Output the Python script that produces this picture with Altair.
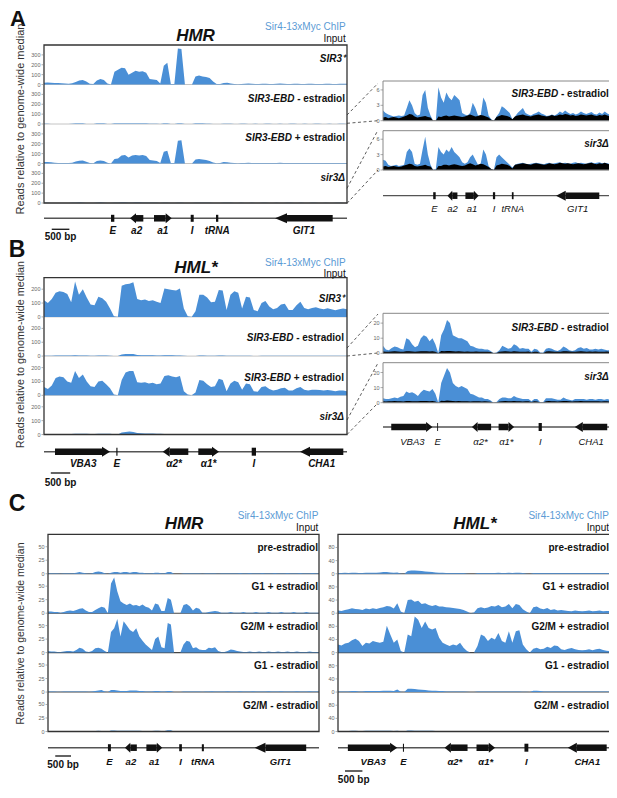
import altair as alt
import pandas as pd

FONT = "Liberation Sans"
BLUE = "#4a8fd6"
LEG_BLUE = "#5b9bd5"
W, H = 601, 782


def P(v):
    return v - 8.0


# ---------------- genomic bins ----------------
HMR_LEN, HML_LEN = 8600, 7800
HMR_POS = list(range(0, HMR_LEN + 1, 100))
HML_POS = list(range(0, HML_LEN + 1, 100))

# ---------------- HMR, panel A (left) ----------------
HMR_SIR3 = [18, 20, 18, 15, 15, 12, 10, 8, 12, 25,
            40, 45, 30, 8, 5, 40, 55, 45, 10, 0,
            130, 150, 170, 165, 100, 120, 140, 130, 135, 120,
            55, 50, 45, 10, 190, 220, 5, 5, 365, 360,
            0, 0, 0, 80, 90, 80, 75, 65, 30, 5,
            5, 15, 18, 10, 5, 3, 5, 8, 10, 8,
            5, 6, 8, 7, 5, 6, 8, 9, 7, 5,
            6, 7, 8, 6, 5, 7, 8, 6, 5, 6,
            7, 8, 6, 5, 7, 8, 7]
HMR_EBDM = [2, 2, 1, 1, 1, 1, 1, 1, 2, 4,
            5, 4, 1, 1, 1, 4, 5, 4, 1, 0,
            4, 5, 6, 6, 5, 5, 6, 6, 5, 5,
            3, 3, 2, 1, 5, 5, 1, 1, 6, 6,
            0, 0, 0, 4, 4, 4, 3, 3, 1, 1,
            1, 3, 3, 2, 1, 1, 2, 2, 1, 1,
            2, 1, 1, 2, 2, 1, 1, 2, 1, 1,
            2, 2, 1, 1, 2, 1, 1, 2, 2, 1,
            1, 2, 1, 1, 2, 2, 1]
HMR_EBDP = [15, 14, 12, 8, 5, 5, 4, 4, 8, 20,
            28, 30, 18, 5, 3, 25, 30, 25, 8, 0,
            45, 50, 80, 85, 60, 80, 85, 80, 85, 75,
            35, 30, 25, 5, 120, 130, 4, 5, 230, 235,
            0, 0, 0, 40, 45, 40, 35, 25, 10, 3,
            4, 15, 12, 8, 4, 3, 4, 6, 8, 6,
            4, 5, 6, 5, 4, 5, 6, 7, 5, 4,
            5, 6, 5, 4, 4, 5, 6, 5, 4, 5,
            6, 5, 4, 4, 5, 6, 5]
HMR_S3D = [2, 2, 1, 1, 1, 1, 1, 1, 2, 3,
           4, 3, 1, 1, 1, 3, 4, 3, 1, 0,
           3, 3, 4, 4, 3, 3, 4, 4, 3, 3,
           2, 2, 2, 1, 3, 3, 1, 1, 3, 3,
           0, 0, 0, 2, 3, 3, 2, 2, 1, 1,
           1, 2, 2, 2, 1, 1, 2, 1, 1, 2,
           1, 1, 2, 2, 1, 1, 2, 1, 1, 2,
           2, 1, 1, 2, 1, 1, 2, 2, 1, 1,
           2, 1, 1, 2, 2, 1, 1]

# ---------------- HMR zoom (panel A right) ----------------
HMRZ_EBDM_CHIP = [2.0, 1.5, 1.2, 1.0, 0.8, 0.9, 1.0, 0.9, 1.0, 2.5,
                  4.0, 3.0, 1.5, 1.0, 1.2, 5.0, 6.0, 2.5, 1.0, 0.0,
                  0.0, 6.5, 4.5, 3.5, 5.5, 4.5, 4.0, 5.0, 4.5, 4.0,
                  1.5, 1.2, 1.0, 1.5, 3.5, 2.5, 1.0, 1.0, 4.5, 3.5,
                  1.0, 0.3, 0.0, 0.8, 1.5, 2.8, 2.5, 2.0, 1.5, 0.3,
                  0.8, 1.5, 2.0, 2.5, 1.5, 1.2, 1.0, 1.3, 1.5, 1.8,
                  1.4, 1.2, 0.9, 1.0, 1.2, 1.0, 1.3, 1.8, 1.5, 2.0,
                  1.6, 1.3, 1.5, 1.2, 1.4, 1.8, 1.5, 1.3, 1.5, 1.7,
                  1.3, 1.2, 1.6, 1.3, 1.8, 1.4, 1.2]
HMRZ_EBDM_INP = [0.6, 0.7, 0.5, 0.6, 0.7, 0.6, 0.5, 0.6, 0.8, 1.0,
                 1.3, 1.2, 0.8, 0.6, 0.7, 0.8, 0.9, 0.7, 0.6, 0.0,
                 0.0, 0.8, 0.7, 0.9, 1.0, 0.8, 0.9, 1.0, 0.9, 0.8,
                 0.7, 0.8, 1.0, 1.2, 1.0, 0.8, 0.9, 1.1, 1.0, 0.8,
                 0.6, 0.2, 0.0, 0.7, 0.9, 1.1, 1.0, 0.9, 0.7, 0.3,
                 0.8, 1.0, 1.1, 1.2, 1.0, 0.9, 0.8, 1.0, 1.1, 1.2,
                 1.0, 0.9, 0.8, 0.9, 1.1, 0.9, 1.0, 1.2, 1.1, 1.3,
                 1.2, 1.0, 1.1, 0.9, 1.0, 1.2, 1.1, 1.0, 1.1, 1.2,
                 1.0, 0.9, 1.1, 1.0, 1.2, 1.0, 0.9]
HMRZ_S3D_CHIP = [2.0, 1.8, 1.0, 0.8, 0.9, 1.0, 0.8, 0.9, 1.0, 3.5,
                 4.2, 3.5, 1.2, 1.0, 1.2, 4.0, 6.5, 3.0, 1.0, 0.0,
                 0.2, 4.5, 3.5, 3.0, 4.0, 3.5, 4.5, 3.5, 3.0, 2.5,
                 1.5, 1.2, 1.5, 2.5, 3.0, 2.0, 1.0, 1.2, 4.0, 3.0,
                 0.8, 0.2, 0.0, 2.5, 3.0, 2.5, 2.0, 1.5, 1.0, 0.5,
                 1.0, 1.2, 1.3, 1.4, 1.2, 1.1, 1.2, 1.3, 1.4, 1.3,
                 1.2, 1.1, 1.3, 1.4, 1.2, 1.3, 1.4, 1.5, 1.3, 1.4,
                 1.3, 1.2, 1.4, 1.5, 1.3, 1.4, 1.3, 1.2, 1.4, 1.5,
                 1.3, 1.4, 1.5, 1.3, 1.4, 1.3, 1.2]
HMRZ_S3D_INP = [0.7, 0.8, 0.6, 0.7, 0.8, 0.7, 0.6, 0.7, 0.9, 1.0,
                1.2, 1.1, 0.8, 0.7, 0.8, 0.9, 1.0, 0.8, 0.7, 0.0,
                0.0, 0.8, 0.8, 1.0, 1.0, 0.9, 1.0, 1.1, 1.0, 0.9,
                0.8, 0.9, 1.1, 1.3, 1.1, 0.9, 1.0, 1.2, 1.1, 0.9,
                0.6, 0.2, 0.0, 0.9, 1.0, 1.2, 1.1, 1.0, 0.8, 0.3,
                1.0, 1.1, 1.2, 1.3, 1.2, 1.1, 1.0, 1.2, 1.3, 1.2,
                1.1, 1.0, 1.1, 1.3, 1.2, 1.1, 1.2, 1.4, 1.3, 1.2,
                1.3, 1.2, 1.1, 1.2, 1.3, 1.2, 1.1, 1.2, 1.3, 1.4,
                1.2, 1.1, 1.3, 1.2, 1.4, 1.2, 1.1]

# ---------------- HML*, panel B (left) ----------------
HML_SIR3 = [120, 100, 130, 175, 185, 180, 165, 105, 255, 160,
            200, 140, 90, 85, 145, 135, 110, 60, 5, 0,
            225, 235, 240, 250, 130, 120, 125, 115, 120, 110,
            100, 205, 200, 195, 190, 205, 60, 5, 0, 40,
            160, 160, 140, 105, 110, 195, 190, 50, 160, 185,
            175, 60, 145, 140, 50, 40, 100, 115, 75, 55,
            65, 90, 95, 50, 50, 85, 110, 65, 55, 65,
            70, 60, 55, 62, 55, 48, 55, 60, 55]
HML_EBDM = [3, 3, 3, 4, 5, 5, 4, 4, 6, 5,
            5, 4, 3, 3, 5, 5, 4, 3, 1, 0,
            12, 15, 16, 15, 8, 7, 7, 6, 6, 5,
            5, 6, 6, 6, 5, 5, 2, 1, 0, 1,
            4, 4, 3, 3, 3, 4, 4, 2, 3, 3,
            3, 2, 3, 3, 1, 1, 3, 3, 2, 2,
            2, 2, 3, 2, 2, 2, 3, 3, 2, 2,
            2, 2, 2, 2, 2, 2, 2, 2, 2]
HML_EBDP = [60, 45, 70, 125, 135, 130, 100, 90, 175, 125,
            150, 100, 65, 60, 100, 105, 80, 50, 5, 0,
            110, 165, 175, 175, 95, 90, 95, 85, 90, 80,
            85, 140, 145, 135, 130, 140, 30, 5, 0, 20,
            110, 105, 80, 60, 65, 120, 110, 30, 85, 105,
            95, 40, 85, 80, 30, 25, 60, 65, 45, 35,
            40, 50, 55, 35, 35, 50, 60, 40, 35, 40,
            40, 38, 35, 38, 35, 30, 35, 35, 30]
HML_S3D = [3, 3, 3, 3, 4, 4, 4, 4, 6, 5,
           5, 5, 4, 4, 6, 6, 5, 6, 2, 0,
           14, 18, 22, 18, 10, 9, 8, 8, 7, 6,
           5, 4, 4, 3, 3, 3, 2, 1, 0, 1,
           3, 3, 3, 3, 3, 4, 3, 3, 2, 2,
           2, 1, 2, 2, 0.5, 0.5, 3, 3, 3, 2,
           2, 2, 3, 2, 2, 2, 2, 2, 2, 2,
           2, 2, 2, 2, 2, 2, 2, 2, 2]

# ---------------- HML* zoom (panel B right) ----------------
HMLZ_EBDM_CHIP = [5.0, 2.5, 2.0, 3.5, 4.5, 4.0, 3.0, 2.5, 10, 9,
                  6, 4, 5, 10, 12, 11, 8, 10, 6, 0,
                  12, 16, 22, 20, 12, 11, 10, 10, 9, 8,
                  5, 4.5, 3.5, 3, 3, 2.5, 2.5, 1.5, 0, 0.5,
                  2, 5, 4, 3, 3.5, 6, 5, 3, 3.5, 3,
                  3, 1, 3, 2.5, 0.5, 0.3, 3, 3.5, 3, 2,
                  1.5, 2.5, 4.5, 3.5, 2, 1.5, 2, 3.5, 4, 3,
                  3.5, 2.5, 2.5, 3, 2.5, 3, 2.5, 2, 2]
HMLZ_EBDM_INP = [1.2, 1.0, 1.1, 1.2, 1.3, 1.2, 1.1, 1.0, 1.3, 1.4,
                 1.2, 1.1, 1.2, 1.3, 1.4, 1.3, 1.2, 1.3, 1.0, 0,
                 1.5, 1.4, 1.6, 1.5, 1.3, 1.2, 1.3, 1.2, 1.1, 1.2,
                 1.0, 1.1, 1.2, 1.1, 1.0, 1.1, 1.0, 0.8, 0, 0.2,
                 1.0, 1.2, 1.3, 1.2, 1.1, 1.3, 1.2, 1.1, 1.0, 1.1,
                 1.2, 0.5, 1.1, 1.0, 0.2, 0.1, 1.2, 1.3, 1.2, 1.1,
                 1.0, 1.1, 1.3, 1.4, 1.2, 1.0, 1.1, 1.2, 1.3, 1.2,
                 1.1, 1.2, 1.1, 1.2, 1.1, 1.0, 1.1, 1.2, 1.0]
HMLZ_S3D_CHIP = [3.0, 2.5, 2.5, 3.0, 3.5, 3.0, 4.0, 4.5, 7.5, 6.5,
                 7.0, 6.0, 4.5, 7.0, 8.5, 8.0, 7.5, 9.0, 6.0, 0,
                 13, 18, 23, 20, 13, 11, 10, 11, 10, 9,
                 6, 5.5, 4.5, 3.5, 3.5, 2.5, 2.5, 1.5, 0, 0.5,
                 2.5, 3.5, 3.5, 3.0, 3.0, 4.5, 3.5, 3.0, 2.5, 2.5,
                 2.5, 1.0, 2.5, 2.5, 0.3, 0.3, 3.0, 3.0, 3.0, 2.5,
                 2.0, 2.0, 3.5, 2.5, 2.0, 1.5, 2.5, 2.5, 2.5, 2.5,
                 2.0, 2.5, 2.5, 2.0, 2.5, 2.5, 2.0, 2.5, 2.0]
HMLZ_S3D_INP = [0.9, 0.8, 0.9, 1.0, 1.1, 1.0, 0.9, 0.8, 1.1, 1.2,
                1.0, 0.9, 1.0, 1.1, 1.2, 1.1, 1.0, 1.1, 0.8, 0,
                1.3, 1.2, 1.4, 1.3, 1.1, 1.0, 1.1, 1.0, 0.9, 1.0,
                0.8, 0.9, 1.0, 0.9, 0.8, 0.9, 0.8, 0.6, 0, 0.2,
                0.8, 1.0, 1.1, 1.0, 0.9, 1.1, 1.0, 0.9, 0.8, 0.9,
                1.0, 0.4, 0.9, 0.8, 0.2, 0.1, 1.0, 1.1, 1.0, 0.9,
                0.8, 0.9, 1.1, 1.2, 1.0, 0.8, 0.9, 1.0, 1.1, 1.0,
                0.9, 1.0, 0.9, 1.0, 0.9, 0.8, 0.9, 1.0, 0.8]

# ---------------- panel C, HMR ----------------
C_HMR_PRE = [1, 1, 1, 1, 0.5, 1, 1, 1, 1, 2,
             3, 2, 1, 0.5, 1, 3, 4, 3, 1, 0,
             2, 3, 3, 2, 3, 3, 2, 3, 3, 2,
             2, 1, 1, 1, 2, 2, 1, 1, 3, 3,
             0, 0, 0, 1, 1, 1, 1, 1, 1, 0.5,
             1, 1, 1, 1, 0.5, 1, 1, 1, 1, 1,
             1, 1.5, 1, 1, 1.5, 1, 1, 1, 1.5, 1,
             1, 1, 1.5, 1, 1, 1, 1.5, 1, 1, 1,
             1.5, 1, 1, 1, 1.5, 1, 1]
C_HMR_G1P = [3, 3, 2, 2, 1, 2, 4, 5, 4, 6,
             8, 9, 5, 2, 2, 6, 9, 12, 10, 0,
             55, 66, 40, 22, 18, 15, 18, 14, 15, 13,
             16, 12, 10, 5, 18, 16, 4, 4, 28, 25,
             0, 0, 0, 15, 17, 13, 5, 10, 8, 1,
             1, 2, 3, 4, 3, 1, 1, 1, 2, 1,
             1, 1, 2, 1, 1, 1, 2, 1, 1, 1,
             2, 1, 1, 1, 2, 1, 1, 1, 2, 1,
             1, 1, 2, 1, 1, 1, 1]
C_HMR_G2P = [3, 2, 2, 1, 1, 2, 3, 3, 2, 5,
             9, 7, 2, 1, 3, 8, 9, 7, 3, 0,
             38, 45, 62, 30, 58, 50, 42, 38, 45, 30,
             22, 15, 10, 5, 25, 30, 10, 8, 55, 52,
             0, 0, 0, 15, 22, 20, 8, 10, 6, 5,
             5, 9, 8, 10, 3, 1, 1, 3, 6, 5,
             3, 2, 1, 1, 2, 1, 1, 2, 1, 1,
             2, 1, 1, 2, 1, 1, 2, 1, 1, 2,
             1, 1, 1, 2, 1, 1, 1]
C_HMR_G1M = [1, 1, 1, 0.5, 0.5, 1, 1, 1, 1, 1,
             1, 1, 1, 0.5, 1, 2, 3, 4, 1, 0,
             4, 4, 3, 2, 2, 2, 3, 3, 3, 2,
             2, 1, 1, 1, 2, 2, 1, 1, 2, 2,
             0, 0, 0, 1, 1, 1, 1, 1, 1, 0.5,
             1, 1, 1.5, 1, 1, 1, 1, 1.5, 1, 1,
             1, 1.5, 1, 1, 1, 1.5, 1, 1, 1, 1,
             1.5, 1, 1, 1, 1.5, 1, 1, 1, 1, 1.5,
             1, 1, 1, 1.5, 1, 1, 1]
C_HMR_G2M = [1, 1, 0.8, 0.8, 0.8, 1, 1, 1, 0.8, 1,
             1, 1, 0.8, 0.8, 1, 1, 1.2, 1, 0.8, 0,
             2, 2, 1.5, 1.2, 1.2, 1.2, 1.5, 1.2, 1.2, 1.2,
             1, 1, 0.8, 0.8, 1.2, 1.2, 0.8, 1, 2.5, 2.5,
             0, 0, 0, 1, 1, 1, 1, 1, 0.8, 0.5,
             0.8, 1, 1, 1, 1, 0.8, 1, 1, 1, 1,
             1, 1, 0.8, 1, 1, 1, 1, 0.8, 1, 1,
             1, 1, 1, 0.8, 1, 1, 1, 1, 1, 0.8,
             1, 1, 1, 1, 1, 0.8, 1]

# ---------------- panel C, HML* ----------------
C_HML_PRE = [2, 2, 3, 2, 3, 3, 2, 2, 3, 3,
             3, 3, 4, 5, 5, 4, 3, 4, 1, 0,
             8, 10, 10, 9, 8, 7, 6, 5, 4, 3,
             3, 2, 2, 2, 2, 2, 2, 1, 0, 0,
             2, 2, 2, 2, 2, 2, 3, 2, 2, 3,
             2, 3, 3, 2, 1, 0, 2, 2, 2, 2,
             2, 2, 2, 2, 2, 2, 2, 2, 2, 2,
             2, 2, 2, 2, 2, 2, 2, 2, 2]
C_HML_G1P = [8, 7, 10, 12, 15, 13, 12, 10, 14, 12,
             15, 13, 16, 18, 22, 20, 14, 30, 5, 0,
             40, 42, 35, 38, 28, 30, 25, 22, 25, 20,
             20, 18, 17, 16, 14, 13, 10, 5, 0, 2,
             15, 18, 15, 17, 22, 20, 25, 18, 20, 28,
             15, 28, 25, 12, 5, 0, 18, 20, 14, 12,
             16, 10, 12, 8, 10, 8, 7, 6, 8, 7,
             6, 7, 8, 6, 7, 8, 6, 7, 6]
C_HML_G2P = [25, 22, 28, 30, 38, 42, 35, 20, 30, 28,
             35, 32, 30, 33, 82, 55, 30, 40, 5, 0,
             55, 50, 110, 100, 75, 95, 75, 70, 75, 45,
             30, 25, 20, 25, 22, 30, 15, 5, 0, 0,
             20, 55, 50, 35, 45, 40, 60, 35, 30, 65,
             30, 65, 68, 25, 10, 0, 12, 15, 10, 12,
             18, 14, 22, 20, 10, 8, 12, 14, 10, 8,
             7, 8, 10, 7, 10, 12, 8, 6, 5]
C_HML_G1M = [2, 2, 2, 2, 3, 3, 2, 2, 3, 3,
             3, 3, 3, 4, 4, 4, 3, 8, 1, 0,
             10, 10, 9, 8, 7, 6, 5, 4, 4, 3,
             3, 2, 2, 2, 2, 2, 2, 1, 0, 0,
             2, 2, 2, 2, 2, 2, 2, 2, 2, 2,
             2, 2, 2, 1, 1, 0, 4, 4, 3, 2,
             2, 2, 2, 2, 2, 2, 2, 2, 2, 2,
             2, 2, 2, 2, 2, 2, 2, 2, 2]
C_HML_G2M = [1.5, 1.5, 1.5, 1.5, 2, 2, 1.5, 1.5, 2, 2,
             2, 2, 2, 2, 2, 2, 1.5, 2, 1, 0,
             3, 3, 2.5, 2.5, 2, 2, 2, 2, 1.5, 1.5,
             1.5, 1.5, 1.5, 1.5, 1.5, 1.5, 1.5, 1, 0, 0,
             1.5, 1.5, 1.5, 1.5, 1.5, 1.5, 1.5, 1.5, 1.5, 1.5,
             1.5, 1.5, 1.5, 1, 1, 0, 1.5, 1.5, 1.5, 1.5,
             1.5, 1.5, 1.5, 1.5, 1.5, 1.5, 1.5, 1.5, 1.5, 1.5,
             1.5, 1.5, 1.5, 1.5, 1.5, 1.5, 1.5, 1.5, 1.5]

# ---------------- gene annotations (bp) ----------------
HMR_GENE_START = [2441, 3122, 6557]
HMR_GENE_END = [2819, 3624, 8194]
HMR_GENE_STRAND = ["-", "+", "-"]
HMR_GENE_HEAD = [6, 6, 12]
HMR_BOX_START = [1902, 4164, 4882]
HMR_BOX_END = [1996, 4249, 4947]
HMR_LABELS = ["E", "a2", "a1", "I", "tRNA", "GIT1"]
HMR_LABEL_POS = [1950, 2630, 3373, 4207, 4915, 7375]

HML_GENE_START = [283, 3056, 3972, 6590]
HML_GENE_END = [1699, 3715, 4505, 7705]
HML_GENE_STRAND = ["+", "-", "+", "-"]
HML_GENE_HEAD = [8, 7, 7, 10]
HML_BOX_START = [1862, 5347]
HML_BOX_END = [1892, 5458]
HML_LABELS = ["VBA3", "E", "α2*", "α1*", "I", "CHA1"]
HML_LABEL_POS = [1010, 1877, 3350, 4238, 5402, 7150]

TRACK_A = [[("SIR3⁺", True)], [("SIR3-EBD", True), ("- estradiol", False)],
           [("SIR3-EBD", True), ("+ estradiol", False)], [("sir3Δ", True)]]
TRACK_Z = [[("SIR3-EBD", True), ("- estradiol", False)], [("sir3Δ", True)]]
TRACK_C = [[("pre-estradiol", False)], [("G1 + estradiol", False)],
           [("G2/M + estradiol", False)], [("G1 - estradiol", False)],
           [("G2/M - estradiol", False)]]
PART_W = {"- estradiol": 47.8, "+ estradiol": 50.3}
SPACE_W = 2.8

layers = []


def XE(L, x0, x1, f="x"):
    return alt.X(f"{f}:Q", scale=alt.Scale(domain=[0, L], range=[P(x0), P(x1)],
                                           nice=False, zero=False), axis=None)


def YE(d0, d1, ybot, ytop, f="y"):
    return alt.Y(f"{f}:Q", scale=alt.Scale(domain=[d0, d1], range=[P(ybot), P(ytop)],
                                           nice=False, zero=False), axis=None)


def add_tracks(pos, L, x0, x1, frames, tops, bots, chips, inputs, labels, unit,
               ticks, label_dy, label_pad, frame_color, frame_w, base_color, base_w):
    top, bot = frames[0][0], frames[-1][1]
    dmax = (bot - top) / unit
    ppb = (x1 - x0) / L
    xe = lambda f="x": XE(L, x0, x1, f)
    ye = lambda f="y": YE(0, dmax, bot, top, f)
    chip, inp, base, tk, lit, lrg = [], [], [], [], [], []
    for k in range(len(chips)):
        off = (bot - bots[k]) / unit
        for x, v in zip(pos, chips[k]):
            chip.append(dict(x=x, y=off + v, y0=off, k=k))
        if inputs is not None:
            for x, v in zip(pos, inputs[k]):
                inp.append(dict(x=x, y=off + v, y0=off, k=k))
        base.append(dict(x=0, x2=L, y=off))
        for tv in ticks:
            tk.append(dict(y=off + tv, t=str(tv)))
        ly = off + (bots[k] - (tops[k] + label_dy)) / unit
        xr = L - label_pad / ppb
        for text, italic in reversed(labels[k]):
            (lit if italic else lrg).append(dict(x=xr, y=ly, t=text))
            xr -= (PART_W.get(text, 0) + SPACE_W) / ppb
    layers.append(alt.Chart(pd.DataFrame(base)).mark_rule(color=base_color, strokeWidth=base_w)
                  .encode(x=xe(), x2="x2:Q", y=ye()))
    layers.append(alt.Chart(pd.DataFrame(chip)).mark_area(color=BLUE, interpolate="linear", opacity=1)
                  .encode(x=xe(), y=ye(), y2="y0:Q", detail="k:N"))
    if inp:
        layers.append(alt.Chart(pd.DataFrame(inp)).mark_area(color="#000000", interpolate="linear")
                      .encode(x=xe(), y=ye(), y2="y0:Q", detail="k:N"))
    fr = [dict(x=0, x2=L, y=(bot - fb) / unit, y2=(bot - ft) / unit) for ft, fb in frames]
    layers.append(alt.Chart(pd.DataFrame(fr)).mark_rect(fill="white", fillOpacity=0, stroke=frame_color,
                                                        strokeWidth=frame_w)
                  .encode(x=xe(), x2="x2:Q", y=ye(), y2="y2:Q"))
    tdf = pd.DataFrame(tk)
    layers.append(alt.Chart(tdf).mark_rule(color="#777", strokeWidth=0.6)
                  .encode(x=alt.value(P(x0) - 2.5), x2=alt.value(P(x0)), y=ye()))
    layers.append(alt.Chart(tdf).mark_text(align="right", baseline="middle", fontSize=5.5,
                                           color="#666", font=FONT)
                  .encode(x=alt.value(P(x0) - 3.5), y=ye(), text="t:N"))
    if lit:
        layers.append(alt.Chart(pd.DataFrame(lit)).mark_text(align="right", baseline="middle", fontSize=10,
                                                             fontWeight="bold", fontStyle="italic",
                                                             font=FONT, color="#111")
                      .encode(x=xe(), y=ye(), text="t:N"))
    if lrg:
        layers.append(alt.Chart(pd.DataFrame(lrg)).mark_text(align="right", baseline="middle", fontSize=10,
                                                             fontWeight="bold", font=FONT, color="#111")
                      .encode(x=xe(), y=ye(), text="t:N"))


def add_genes(L, x0, x1, line_y, gs, ge, gst, gh, bs, be, bhh, lab, lpos, label_y,
              lab_size, lab_bold, line_w, head_scale=1.0, scalebar=None):
    ppb = (x1 - x0) / L
    xe = lambda f="x": XE(L, x0, x1, f)
    ye = lambda f="y": YE(-1, 1, line_y + 5, line_y - 5, f)
    layers.append(alt.Chart(pd.DataFrame([dict(x=0, x2=L, y=0)]))
                  .mark_rule(color="#555", strokeWidth=line_w)
                  .encode(x=xe(), x2="x2:Q", y=ye()))
    h, Hh = 0.65, 1.0
    bodies, heads = [], []
    for g, (s, e, st, hp) in enumerate(zip(gs, ge, gst, gh)):
        hd = hp * head_scale / ppb
        if st == "+":
            bodies.append(dict(x=s, x2=e - hd, y=-h, y2=h))
            heads.append(dict(g=g, x=e - hd, y=Hh, y0=-Hh))
            heads.append(dict(g=g, x=e, y=0.0, y0=0.0))
        else:
            bodies.append(dict(x=s + hd, x2=e, y=-h, y2=h))
            heads.append(dict(g=g, x=s, y=0.0, y0=0.0))
            heads.append(dict(g=g, x=s + hd, y=Hh, y0=-Hh))
    for s, e in zip(bs, be):
        bodies.append(dict(x=s, x2=e, y=-bhh, y2=bhh))
    layers.append(alt.Chart(pd.DataFrame(bodies)).mark_rect(color="#111")
                  .encode(x=xe(), x2="x2:Q", y=ye(), y2="y2:Q"))
    layers.append(alt.Chart(pd.DataFrame(heads)).mark_area(color="#111", interpolate="linear")
                  .encode(x=xe(), y=ye(), y2="y0:Q", detail="g:N"))
    ly = (line_y - label_y) / 5.0
    ldf = pd.DataFrame([dict(x=x, y=ly, t=t) for t, x in zip(lab, lpos)])
    layers.append(alt.Chart(ldf).mark_text(align="center", baseline="middle", fontSize=lab_size,
                                           fontWeight="bold" if lab_bold else "normal",
                                           fontStyle="italic", font=FONT, color="#111")
                  .encode(x=xe(), y=ye(), text="t:N"))
    if scalebar:
        s0, s1, by, ty = scalebar
        layers.append(alt.Chart(pd.DataFrame([dict(x=s0, x2=s1, y=(line_y - by) / 5.0)]))
                      .mark_rule(color="#222", strokeWidth=1.4)
                      .encode(x=xe(), x2="x2:Q", y=ye()))
        layers.append(alt.Chart(pd.DataFrame([dict(x=(s0 + s1) / 2, y=(line_y - ty) / 5.0, t="500 bp")]))
                      .mark_text(align="center", baseline="middle", fontSize=10, fontWeight="bold",
                                 font=FONT, color="#111")
                      .encode(x=xe(), y=ye(), text="t:N"))


def add_text(t, x, y, size, color="#111", weight="normal", style="normal", align="center",
             baseline="middle", angle=0):
    kw = dict(align=align, baseline=baseline, fontSize=size, fontWeight=weight,
              fontStyle=style, font=FONT, color=color)
    if angle:
        kw["angle"] = angle
    layers.append(alt.Chart(pd.DataFrame([dict(t=t)])).mark_text(**kw)
                  .encode(x=alt.value(P(x)), y=alt.value(P(y)), text="t:N"))


def add_dash(xa, ya, xb, yb):
    layers.append(alt.Chart(pd.DataFrame([dict(a=1)]))
                  .mark_rule(color="#333", strokeWidth=0.8, strokeDash=[3, 2.5])
                  .encode(x=alt.value(P(xa)), x2=alt.value(P(xb)), y=alt.value(P(ya)), y2=alt.value(P(yb))))


def even(top, bot, n):
    h = (bot - top) / n
    return [top + i * h for i in range(n)], [top + (i + 1) * h for i in range(n)]


# ======== Panel A ========
t, b = even(45, 203, 4)
add_tracks(HMR_POS, HMR_LEN, 44, 347, [(45, 203)], t, b,
           [HMR_SIR3, HMR_EBDM, HMR_EBDP, HMR_S3D], None, TRACK_A, 39.5 / 400,
           [0, 100, 200, 300], 14, 2, "#333", 1.3, "#c4c4c4", 1)
add_genes(HMR_LEN, 44, 347, 218.3, HMR_GENE_START, HMR_GENE_END, HMR_GENE_STRAND, HMR_GENE_HEAD,
          HMR_BOX_START, HMR_BOX_END, 0.7, HMR_LABELS, HMR_LABEL_POS, 231, 10, True, 1.5,
          1.0, (220, 720, 229.3, 237))
zf = [(81, 120.7), (130.7, 170)]
add_tracks(HMR_POS, HMR_LEN, 383, 610, zf, [f[0] for f in zf], [f[1] for f in zf],
           [HMRZ_EBDM_CHIP, HMRZ_S3D_CHIP], [HMRZ_EBDM_INP, HMRZ_S3D_INP], TRACK_Z, 39.5 / 7.7,
           [0, 3, 6], 13.3, 1.2, "#888", 1, "#999", 0.8)
add_genes(HMR_LEN, 383, 610, 195.7, HMR_GENE_START, HMR_GENE_END, HMR_GENE_STRAND, HMR_GENE_HEAD,
          HMR_BOX_START, HMR_BOX_END, 0.7, HMR_LABELS, HMR_LABEL_POS, 209, 9.5, False, 1.3, 0.8)
add_dash(347, 115, 378, 83.3)
add_dash(347, 123.3, 378, 120.7)
add_dash(347, 188.3, 378, 130)
add_dash(347, 203.3, 378, 170)
add_text("A", 10, 9, 22, weight="bold", baseline="top", align="left")
add_text("HMR", 195.5, 40.5, 17, weight="bold", style="italic", baseline="alphabetic")
add_text("Sir4-13xMyc ChIP", 345.7, 27, 10, color=LEG_BLUE, align="right")
add_text("Input", 345.7, 39, 10, align="right")
add_text("Reads relative to genome-wide median", 21.3, 119, 11, color="#333", angle=270)

# ======== Panel B ========
t, b = even(277.7, 434.5, 4)
add_tracks(HML_POS, HML_LEN, 44, 347, [(277.7, 434.5)], t, b,
           [HML_SIR3, HML_EBDM, HML_EBDP, HML_S3D], None, TRACK_A, 39.2 / 283,
           [0, 100, 200], 21.5, 3, "#333", 1.3, "#c4c4c4", 1)
add_genes(HML_LEN, 44, 347, 451.7, HML_GENE_START, HML_GENE_END, HML_GENE_STRAND, HML_GENE_HEAD,
          HML_BOX_START, HML_BOX_END, 0.8, HML_LABELS, HML_LABEL_POS, 464, 10, True, 1.5,
          1.0, (175, 675, 473, 483))
zf = [(313.3, 353.3), (362.7, 402.7)]
add_tracks(HML_POS, HML_LEN, 383, 610, zf, [f[0] for f in zf], [f[1] for f in zf],
           [HMLZ_EBDM_CHIP, HMLZ_S3D_CHIP], [HMLZ_EBDM_INP, HMLZ_S3D_INP], TRACK_Z, 40 / 26.5,
           [0, 10, 20], 14.5, 1.2, "#888", 1, "#999", 0.8)
add_genes(HML_LEN, 383, 610, 427, HML_GENE_START, HML_GENE_END, HML_GENE_STRAND, HML_GENE_HEAD,
          HML_BOX_START, HML_BOX_END, 0.8, HML_LABELS, HML_LABEL_POS, 442, 9.5, False, 1.3, 0.8)
add_dash(347, 348, 378, 314)
add_dash(347, 356, 378, 353)
add_dash(347, 420, 378, 363)
add_dash(347, 434.5, 378, 403)
add_text("B", 17, 256.5, 23, weight="bold", baseline="alphabetic")
add_text("HML*", 196, 273.3, 17, weight="bold", style="italic", baseline="alphabetic")
add_text("Sir4-13xMyc ChIP", 345.7, 263.3, 10, color=LEG_BLUE, align="right")
add_text("Input", 345.7, 274, 10, align="right")
add_text("Reads relative to genome-wide median", 21.3, 354.5, 10.8, color="#333", angle=270)

# ======== Panel C ========
t, b = even(534.3, 731.5, 5)
add_tracks(HMR_POS, HMR_LEN, 48, 319, [(534.3, 731.5)], t, b,
           [C_HMR_PRE, C_HMR_G1P, C_HMR_G2P, C_HMR_G1M, C_HMR_G2M], None, TRACK_C, 39.44 / 73,
           [0, 25, 50], 13.5, 1, "#333", 1.3, "#444", 1.1)
add_genes(HMR_LEN, 48, 319, 747.7, HMR_GENE_START, HMR_GENE_END, HMR_GENE_STRAND, HMR_GENE_HEAD,
          HMR_BOX_START, HMR_BOX_END, 0.7, HMR_LABELS, HMR_LABEL_POS, 761.7, 9.5, True, 1.5,
          0.9, (230, 730, 756, 765))
add_tracks(HML_POS, HML_LEN, 338, 610, [(534.3, 731.5)], t, b,
           [C_HML_PRE, C_HML_G1P, C_HML_G2P, C_HML_G1M, C_HML_G2M], None, TRACK_C, 39.44 / 120,
           [0, 40, 80], 13.5, 1, "#333", 1.3, "#444", 1.1)
add_genes(HML_LEN, 338, 610, 747.7, HML_GENE_START, HML_GENE_END, HML_GENE_STRAND, HML_GENE_HEAD,
          HML_BOX_START, HML_BOX_END, 0.8, HML_LABELS, HML_LABEL_POS, 761.7, 9.5, True, 1.5,
          0.9, (200, 700, 771, 780))
add_text("C", 17, 511, 23, weight="bold", baseline="alphabetic")
add_text("HMR", 184, 529.3, 17, weight="bold", style="italic", baseline="alphabetic")
add_text("HML*", 475, 529.3, 17, weight="bold", style="italic", baseline="alphabetic")
add_text("Sir4-13xMyc ChIP", 318.3, 516, 10, color=LEG_BLUE, align="right")
add_text("Input", 318.3, 528.3, 10, align="right")
add_text("Sir4-13xMyc ChIP", 609, 516, 10, color=LEG_BLUE, align="right")
add_text("Input", 609, 528.3, 10, align="right")
add_text("Reads relative to genome-wide median", 20.5, 633.5, 10.5, color="#333", angle=270)

chart = (alt.layer(*layers)
         .resolve_scale(x="independent", y="independent")
         .properties(width=W, height=H, autosize=alt.AutoSizeParams(type="none"), padding=0)
         .configure_view(strokeOpacity=0))

chart.save("out.html", embed_options={"renderer": "svg", "actions": False})
